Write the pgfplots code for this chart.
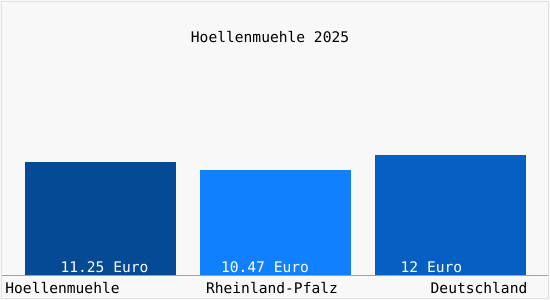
\documentclass[border=0pt]{standalone}
\usepackage{fontspec}
\setmonofont{DejaVu Sans Mono}
\usepackage{pgfplots}
\pgfplotsset{compat=1.18}
\definecolor{bgc}{HTML}{F8F8F8}
\definecolor{framec}{HTML}{E2E2E2}
\definecolor{basec}{HTML}{A0A0A0}
\definecolor{barA}{HTML}{044A94}
\definecolor{barB}{HTML}{1180FF}
\definecolor{barC}{HTML}{0660C4}
\newcommand{\cf}{\ttfamily\fontsize{14.6bp}{17bp}\selectfont}
\begin{document}
\begin{tikzpicture}[font=\cf]
\begin{axis}[
  scale only axis, width=550bp, height=300bp,
  xmin=-0.5743, xmax=2.5686,
  ymin=-2.4925, ymax=27.418,
  axis line style={draw=none},
  axis background/.style={fill=bgc},
  ytick=\empty,
  xtick={-0.217,0.98,2.163},
  xticklabels={Hoellenmuehle,Rheinland-Pfalz,Deutschland},
  xtick style={draw=none},
  major tick length=0pt,
  xticklabel style={anchor=base, yshift=7bp, font=\cf, text=black},
  ybar, bar width=151bp, bar shift=0pt,
  clip=false,
]
\addplot[fill=barA, draw=none] coordinates {(0,11.25)};
\addplot[fill=barB, draw=none] coordinates {(1,10.47)};
\addplot[fill=barC, draw=none] coordinates {(2,12)};
\draw[basec, line width=1bp] (rel axis cs:0.004,0.08333) -- (rel axis cs:0.996,0.08333);
\draw[framec, line width=1bp] (rel axis cs:0.0027,0.005) rectangle (rel axis cs:0.9973,0.995);
\node[anchor=base, text=white, font=\cf] at (axis cs:0.023,0.25) {11.25 Euro};
\node[anchor=base, text=white, font=\cf] at (axis cs:0.94,0.25) {10.47 Euro};
\node[anchor=base, text=white, font=\cf] at (axis cs:1.891,0.25) {12 Euro};
\node[anchor=base, font=\cf] at (rel axis cs:0.491,0.857) {Hoellenmuehle 2025};
\end{axis}
\end{tikzpicture}
\end{document}
